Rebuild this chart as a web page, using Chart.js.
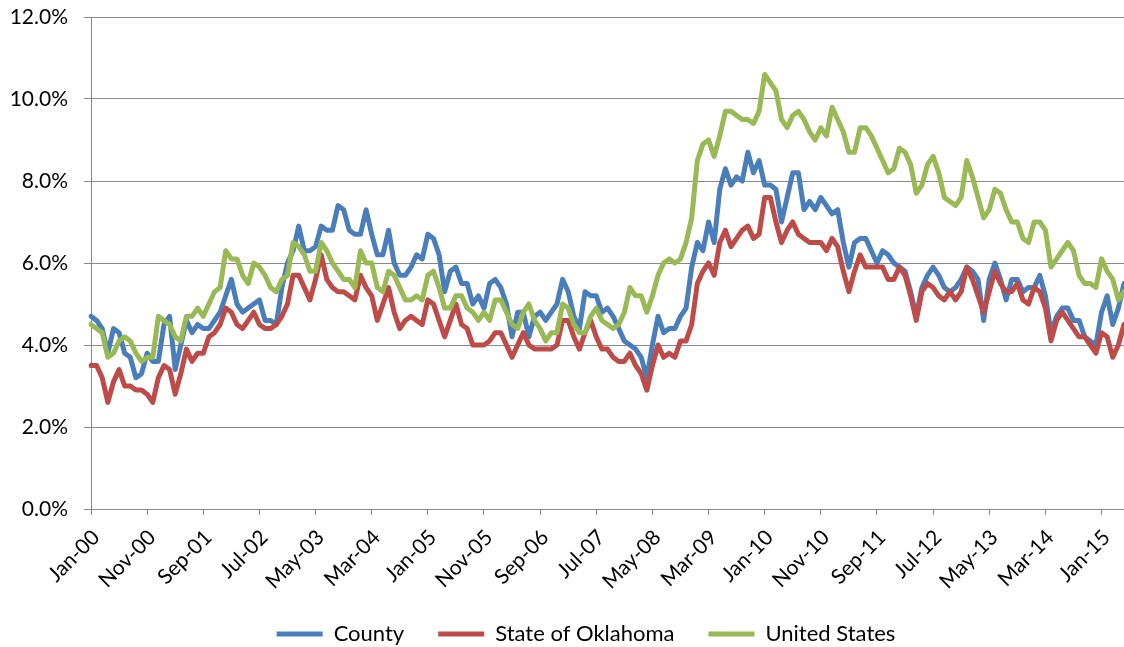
<!DOCTYPE html>
<html>
<head>
<meta charset="utf-8">
<script src="https://cdn.jsdelivr.net/npm/chart.js@4.4.1/dist/chart.umd.min.js"></script>
<style>
  html, body { margin: 0; padding: 0; background: #ffffff; }
  #wrap { width: 1124px; height: 647px; }
</style>
</head>
<body>
<div id="wrap"><canvas id="graph"></canvas></div>
<script>
// monthly unemployment rate, Jan-00 .. May-15 (one row per year)
const monthNames = ['Jan', 'Feb', 'Mar', 'Apr', 'May', 'Jun', 'Jul', 'Aug', 'Sep', 'Oct', 'Nov', 'Dec'];
const firstYear = 2000;
const tickEvery = 10;

const county = [
  4.7, 4.6, 4.4, 3.8, 4.4, 4.3, 3.8, 3.7, 3.2, 3.3, 3.8, 3.6,
  3.6, 4.5, 4.7, 3.4, 4.0, 4.6, 4.3, 4.5, 4.4, 4.4, 4.6, 4.8,
  5.2, 5.6, 5.0, 4.8, 4.9, 5.0, 5.1, 4.6, 4.6, 4.5, 5.4, 6.0,
  6.3, 6.9, 6.3, 6.3, 6.4, 6.9, 6.8, 6.8, 7.4, 7.3, 6.8, 6.7,
  6.7, 7.3, 6.7, 6.2, 6.2, 6.8, 6.0, 5.7, 5.7, 5.9, 6.2, 6.1,
  6.7, 6.6, 6.2, 5.3, 5.8, 5.9, 5.5, 5.5, 5.0, 5.2, 4.9, 5.5,
  5.6, 5.4, 5.0, 4.2, 4.8, 4.8, 4.2, 4.7, 4.8, 4.6, 4.8, 5.0,
  5.6, 5.3, 4.7, 4.4, 5.3, 5.2, 5.2, 4.8, 4.9, 4.7, 4.4, 4.1,
  4.0, 3.9, 3.7, 3.2, 4.0, 4.7, 4.3, 4.4, 4.4, 4.7, 4.9, 5.9,
  6.5, 6.3, 7.0, 6.5, 7.8, 8.3, 7.9, 8.1, 8.0, 8.7, 8.2, 8.5,
  7.9, 7.9, 7.8, 7.0, 7.6, 8.2, 8.2, 7.3, 7.5, 7.3, 7.6, 7.4,
  7.2, 7.3, 6.5, 5.9, 6.5, 6.6, 6.6, 6.3, 6.0, 6.3, 6.2, 6.0,
  5.9, 5.8, 5.3, 4.7, 5.4, 5.7, 5.9, 5.7, 5.4, 5.3, 5.4, 5.6,
  5.9, 5.8, 5.6, 4.6, 5.6, 6.0, 5.6, 5.1, 5.6, 5.6, 5.3, 5.4,
  5.4, 5.7, 5.2, 4.3, 4.7, 4.9, 4.9, 4.6, 4.6, 4.2, 4.1, 4.0,
  4.8, 5.2, 4.5, 4.9, 5.5
];

const oklahoma = [
  3.5, 3.5, 3.2, 2.6, 3.1, 3.4, 3.0, 3.0, 2.9, 2.9, 2.8, 2.6,
  3.2, 3.5, 3.4, 2.8, 3.3, 3.9, 3.6, 3.8, 3.8, 4.2, 4.3, 4.5,
  4.9, 4.8, 4.5, 4.4, 4.6, 4.8, 4.5, 4.4, 4.4, 4.5, 4.7, 5.0,
  5.7, 5.7, 5.4, 5.1, 5.6, 6.2, 5.6, 5.4, 5.3, 5.3, 5.2, 5.1,
  5.7, 5.4, 5.2, 4.6, 5.0, 5.4, 4.8, 4.4, 4.6, 4.7, 4.6, 4.5,
  5.1, 5.0, 4.6, 4.2, 4.6, 5.0, 4.5, 4.4, 4.0, 4.0, 4.0, 4.1,
  4.3, 4.3, 4.0, 3.7, 4.0, 4.3, 4.0, 3.9, 3.9, 3.9, 3.9, 4.0,
  4.6, 4.6, 4.2, 3.9, 4.3, 4.6, 4.2, 3.9, 3.9, 3.7, 3.6, 3.6,
  3.8, 3.5, 3.3, 2.9, 3.5, 4.0, 3.7, 3.8, 3.7, 4.1, 4.1, 4.5,
  5.5, 5.8, 6.0, 5.7, 6.5, 6.8, 6.4, 6.6, 6.8, 6.9, 6.6, 6.7,
  7.6, 7.6, 7.0, 6.5, 6.8, 7.0, 6.7, 6.6, 6.5, 6.5, 6.5, 6.3,
  6.6, 6.4, 5.8, 5.3, 5.8, 6.2, 5.9, 5.9, 5.9, 5.9, 5.6, 5.6,
  5.9, 5.7, 5.2, 4.6, 5.3, 5.5, 5.4, 5.2, 5.1, 5.3, 5.1, 5.3,
  5.9, 5.6, 5.2, 4.8, 5.3, 5.8, 5.5, 5.3, 5.3, 5.5, 5.1, 5.0,
  5.4, 5.3, 4.9, 4.1, 4.6, 4.8, 4.6, 4.4, 4.2, 4.2, 4.0, 3.8,
  4.3, 4.2, 3.7, 4.0, 4.5
];

const unitedStates = [
  4.5, 4.4, 4.3, 3.7, 3.8, 4.1, 4.2, 4.1, 3.8, 3.6, 3.7, 3.7,
  4.7, 4.6, 4.5, 4.2, 4.1, 4.7, 4.7, 4.9, 4.7, 5.0, 5.3, 5.4,
  6.3, 6.1, 6.1, 5.7, 5.5, 6.0, 5.9, 5.7, 5.4, 5.3, 5.6, 5.7,
  6.5, 6.4, 6.2, 5.8, 5.8, 6.5, 6.3, 6.0, 5.8, 5.6, 5.6, 5.4,
  6.3, 6.0, 6.0, 5.4, 5.3, 5.8, 5.7, 5.4, 5.1, 5.1, 5.2, 5.1,
  5.7, 5.8, 5.4, 4.9, 4.9, 5.2, 5.2, 4.9, 4.8, 4.6, 4.8, 4.6,
  5.1, 5.1, 4.8, 4.5, 4.4, 4.8, 5.0, 4.6, 4.4, 4.1, 4.3, 4.3,
  5.0, 4.9, 4.5, 4.3, 4.3, 4.7, 4.9, 4.6, 4.5, 4.4, 4.5, 4.8,
  5.4, 5.2, 5.2, 4.8, 5.2, 5.7, 6.0, 6.1, 6.0, 6.1, 6.5, 7.1,
  8.5, 8.9, 9.0, 8.6, 9.1, 9.7, 9.7, 9.6, 9.5, 9.5, 9.4, 9.7,
  10.6, 10.4, 10.2, 9.5, 9.3, 9.6, 9.7, 9.5, 9.2, 9.0, 9.3, 9.1,
  9.8, 9.5, 9.2, 8.7, 8.7, 9.3, 9.3, 9.1, 8.8, 8.5, 8.2, 8.3,
  8.8, 8.7, 8.4, 7.7, 7.9, 8.4, 8.6, 8.2, 7.6, 7.5, 7.4, 7.6,
  8.5, 8.1, 7.6, 7.1, 7.3, 7.8, 7.7, 7.3, 7.0, 7.0, 6.6, 6.5,
  7.0, 7.0, 6.8, 5.9, 6.1, 6.3, 6.5, 6.3, 5.7, 5.5, 5.5, 5.4,
  6.1, 5.8, 5.6, 5.1, 5.3
];

const yTicks = [0, 2, 4, 6, 8, 10, 12];

const labels = [];
for (let i = 0; i < county.length; i++) {
    const yy = (firstYear + Math.floor(i / 12)) % 100;
    labels.push(monthNames[i % 12] + '-' + String(yy).padStart(2, '0'));
}

const gridGray = '#898989';
Chart.defaults.font.family = 'Lato';
Chart.defaults.font.size = 21;
Chart.defaults.color = '#000000';

function mkSeries(label, values, color, order) {
    return {
        label: label,
        data: values,
        borderColor: color,
        backgroundColor: color,
        borderWidth: 5,
        pointRadius: 0,
        pointHoverRadius: 0,
        tension: 0,
        fill: false,
        borderJoinStyle: 'round',
        borderCapStyle: 'round',
        order: order
    };
}

// move the legend row to where it sits in the picture,
// and let the rotated x labels run below the axis box without being clipped
const legendNudge = {
    id: 'legendNudge',
    afterLayout(chart) {
        const lg = chart.legend;
        const pad = lg.options.labels.padding;
        const dy = 634 - (lg.top + pad + 11);
        lg.top += dy; lg.bottom += dy;
        lg.left += 24; lg.right += 24;
        chart.scales.x.bottom = chart.height;
    }
};

const ctx = document.getElementById('graph');
new Chart(ctx, {
    type: 'line',
    data: {
        labels: labels,
        datasets: [
            mkSeries('County', county, '#4A7EBB', 3),
            mkSeries('State of Oklahoma', oklahoma, '#BE4B48', 2),
            mkSeries('United States', unitedStates, '#98B954', 1)
        ]
    },
    plugins: [legendNudge],
    options: {
        responsive: true,
        maintainAspectRatio: false,
        animation: false,
        layout: { padding: { left: 0, right: 0, top: 17, bottom: 0 } },
        plugins: {
            tooltip: { enabled: false },
            legend: {
                position: 'bottom',
                labels: {
                    usePointStyle: true,
                    pointStyle: 'line',
                    pointStyleWidth: 46,
                    padding: 34,
                    font: { size: 22 },
                    sort: (a, b) => a.datasetIndex - b.datasetIndex
                }
            }
        },
        scales: {
            x: {
                grid: {
                    drawOnChartArea: false,
                    drawTicks: true,
                    tickLength: 6,
                    color: gridGray
                },
                border: { color: gridGray, width: 1 },
                ticks: {
                    autoSkip: false,
                    minRotation: 45,
                    maxRotation: 45,
                    padding: 10,
                    labelOffset: 5,
                    callback: function (value, index) {
                        return index % tickEvery === 0 ? labels[index] : null;
                    }
                },
                afterFit: function (scale) {
                    scale.height = 72;
                    scale.paddingRight = 0;
                    scale.paddingLeft = 0;
                }
            },
            y: {
                min: 0,
                max: 12,
                afterBuildTicks: function (scale) {
                    scale.ticks = yTicks.map(v => ({ value: v }));
                },
                grid: { color: gridGray, tickLength: 7 },
                border: { color: gridGray, width: 1 },
                ticks: {
                    padding: 16,
                    callback: function (value) { return value.toFixed(1) + '%'; }
                },
                afterFit: function (scale) {
                    scale.width = 91;
                    scale.paddingTop = 0;
                    scale.paddingBottom = 0;
                }
            }
        }
    }
});
</script>
</body>
</html>
